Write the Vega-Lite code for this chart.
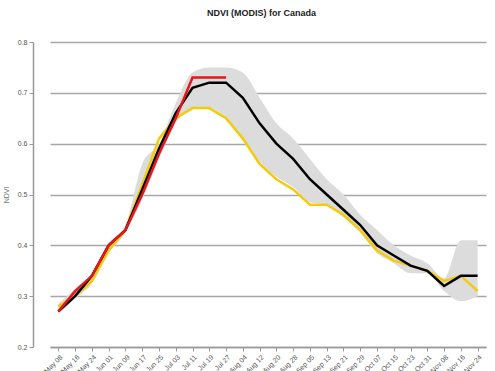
{
  "$schema": "https://vega.github.io/schema/vega-lite/v6.json",
  "autosize": "none",
  "width": 457,
  "height": 305,
  "padding": {"left": 33, "top": 42, "right": 5, "bottom": 24},
  "background": "white",
  "title": {"text": "NDVI (MODIS) for Canada", "font": "Liberation Sans", "fontSize": 9, "fontWeight": "bold", "color": "#222", "offset": 20, "anchor": "middle"},
  "config": {"view": {"stroke": null}},
  "data": {"values": [
    {"date": "May 08", "current": 0.27, "previous": 0.28, "mean": 0.27, "min": 0.265, "max": 0.285},
    {"date": "May 16", "current": 0.31, "previous": 0.30, "mean": 0.30, "min": 0.295, "max": 0.315},
    {"date": "May 24", "current": 0.34, "previous": 0.33, "mean": 0.34, "min": 0.325, "max": 0.345},
    {"date": "Jun 01", "current": 0.40, "previous": 0.39, "mean": 0.40, "min": 0.385, "max": 0.405},
    {"date": "Jun 09", "current": 0.43, "previous": 0.43, "mean": 0.43, "min": 0.425, "max": 0.44},
    {"date": "Jun 17", "current": 0.50, "previous": 0.52, "mean": 0.51, "min": 0.49, "max": 0.56},
    {"date": "Jun 25", "current": 0.58, "previous": 0.61, "mean": 0.59, "min": 0.57, "max": 0.60},
    {"date": "Jul 03", "current": 0.65, "previous": 0.65, "mean": 0.66, "min": 0.64, "max": 0.68},
    {"date": "Jul 11", "current": 0.73, "previous": 0.67, "mean": 0.71, "min": 0.67, "max": 0.74},
    {"date": "Jul 19", "current": 0.73, "previous": 0.67, "mean": 0.72, "min": 0.67, "max": 0.75},
    {"date": "Jul 27", "current": 0.73, "previous": 0.65, "mean": 0.72, "min": 0.65, "max": 0.75},
    {"date": "Aug 04", "current": null, "previous": 0.61, "mean": 0.69, "min": 0.61, "max": 0.74},
    {"date": "Aug 12", "current": null, "previous": 0.56, "mean": 0.64, "min": 0.565, "max": 0.69},
    {"date": "Aug 20", "current": null, "previous": 0.53, "mean": 0.60, "min": 0.535, "max": 0.64},
    {"date": "Aug 28", "current": null, "previous": 0.51, "mean": 0.57, "min": 0.515, "max": 0.61},
    {"date": "Sep 05", "current": null, "previous": 0.48, "mean": 0.53, "min": 0.485, "max": 0.57},
    {"date": "Sep 13", "current": null, "previous": 0.48, "mean": 0.50, "min": 0.48, "max": 0.53},
    {"date": "Sep 21", "current": null, "previous": 0.46, "mean": 0.47, "min": 0.455, "max": 0.50},
    {"date": "Sep 29", "current": null, "previous": 0.43, "mean": 0.44, "min": 0.425, "max": 0.46},
    {"date": "Oct 07", "current": null, "previous": 0.39, "mean": 0.40, "min": 0.385, "max": 0.43},
    {"date": "Oct 15", "current": null, "previous": 0.37, "mean": 0.38, "min": 0.365, "max": 0.40},
    {"date": "Oct 23", "current": null, "previous": 0.36, "mean": 0.36, "min": 0.345, "max": 0.38},
    {"date": "Oct 31", "current": null, "previous": 0.35, "mean": 0.35, "min": 0.345, "max": 0.365},
    {"date": "Nov 08", "current": null, "previous": 0.33, "mean": 0.32, "min": 0.31, "max": 0.335},
    {"date": "Nov 16", "current": null, "previous": 0.34, "mean": 0.34, "min": 0.29, "max": 0.41},
    {"date": "Nov 24", "current": null, "previous": 0.31, "mean": 0.34, "min": 0.30, "max": 0.41}
  ]},
  "encoding": {
    "x": {
      "field": "date", "type": "ordinal", "sort": null,
      "scale": {"type": "point", "range": [17, 453]},
      "axis": {"title": null, "labelAngle": -45, "labelAlign": "right", "labelBaseline": "top", "labelFontSize": 7, "labelFont": "Liberation Sans", "labelColor": "#555", "domainColor": "#999", "domainWidth": 1.5, "tickColor": "#999", "tickSize": 4, "labelPadding": 2, "grid": false}
    }
  },
  "layer": [
    {
      "mark": {"type": "area", "color": "#dcdcdc", "interpolate": "monotone"},
      "encoding": {
        "y": {"field": "min", "type": "quantitative", "scale": {"domain": [0.2, 0.8], "nice": false, "zero": false},
          "axis": {"title": "NDVI", "titleFontSize": 7, "titleFont": "Liberation Sans", "titleColor": "#777", "titleFontWeight": "normal", "titlePadding": 8, "values": [0.2, 0.3, 0.4, 0.5, 0.6, 0.7, 0.8], "format": ".1f", "labelFontSize": 7, "labelFont": "Liberation Sans", "labelColor": "#555", "grid": true, "gridColor": "#a8a8a8", "gridWidth": 1.5, "domainColor": "#999", "domainWidth": 1.5, "tickColor": "#999", "tickSize": 4, "labelPadding": 2}},
        "y2": {"field": "max"}
      }
    },
    {
      "mark": {"type": "line", "color": "#f2cc0c", "strokeWidth": 2.5},
      "encoding": {"y": {"field": "previous", "type": "quantitative"}}
    },
    {
      "mark": {"type": "line", "color": "#000000", "strokeWidth": 2.5},
      "encoding": {"y": {"field": "mean", "type": "quantitative"}}
    },
    {
      "mark": {"type": "line", "color": "#e8161b", "strokeWidth": 2.5},
      "encoding": {"y": {"field": "current", "type": "quantitative"}}
    }
  ]
}
